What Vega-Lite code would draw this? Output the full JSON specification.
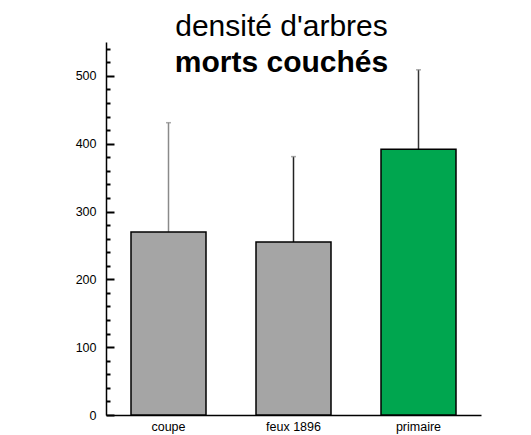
{
  "$schema": "https://vega.github.io/schema/vega-lite/v6.json",
  "autosize": "none",
  "width": 375,
  "height": 373,
  "padding": {"left": 106, "top": 42, "right": 50, "bottom": 20},
  "background": "white",
  "config": {"view": {"stroke": null}, "font": "Liberation Sans"},
  "title": {
    "text": "densité d'arbres",
    "subtitle": "morts couchés",
    "fontSize": 30,
    "fontWeight": "normal",
    "subtitleFontSize": 30,
    "subtitleFontWeight": "bold",
    "subtitleColor": "black",
    "color": "black",
    "font": "Liberation Sans",
    "subtitleFont": "Liberation Sans",
    "anchor": "middle",
    "dx": -12,
    "offset": -36,
    "subtitlePadding": 6
  },
  "data": {
    "values": [
      {"cat": "coupe", "value": 270, "upper": 431},
      {"cat": "feux 1896", "value": 255, "upper": 381},
      {"cat": "primaire", "value": 392, "upper": 509}
    ]
  },
  "encoding": {
    "x": {
      "field": "cat",
      "type": "nominal",
      "sort": null,
      "scale": {"paddingInner": 0.4, "paddingOuter": 0.2},
      "axis": {
        "title": null,
        "ticks": false,
        "labelAngle": 0,
        "labelPadding": 5,
        "labelFontSize": 12.5,
        "labelColor": "black",
        "domainColor": "black",
        "domainWidth": 1.5,
        "labelFont": "Liberation Sans"
      }
    }
  },
  "resolve": {"axis": {"y": "independent"}},
  "layer": [
    {
      "mark": {"type": "rule", "strokeWidth": 1.5},
      "encoding": {
        "y": {
          "field": "value",
          "type": "quantitative",
          "scale": {"domain": [0, 550], "nice": false},
          "axis": {
            "orient": "left",
            "title": null,
            "grid": false,
            "values": [0, 100, 200, 300, 400, 500],
            "labelOverlap": false,
            "ticks": false,
            "domainColor": "black",
            "domainWidth": 1.5,
            "labelColor": "black",
            "labelFontSize": 12.5,
            "labelFont": "Liberation Sans",
            "labelPadding": 10
          }
        },
        "y2": {"field": "upper"},
        "stroke": {
          "field": "cat",
          "type": "nominal",
          "scale": {"domain": ["coupe", "feux 1896", "primaire"], "range": ["#8a8a8a", "#222222", "#333333"]},
          "legend": null
        }
      }
    },
    {
      "mark": {"type": "tick", "orient": "horizontal", "size": 5, "thickness": 1.5, "color": "#888888"},
      "encoding": {
        "y": {
          "field": "upper",
          "type": "quantitative",
          "axis": {
            "orient": "right",
            "offset": -375,
            "title": null,
            "grid": false,
            "domain": false,
            "labels": false,
            "values": [0, 100, 200, 300, 400, 500],
            "tickSize": 8,
            "tickWidth": 2,
            "tickColor": "black"
          }
        }
      }
    },
    {
      "mark": {"type": "bar", "stroke": "black", "strokeWidth": 1.5},
      "encoding": {
        "y": {
          "field": "value",
          "type": "quantitative",
          "axis": {
            "orient": "right",
            "offset": -375,
            "title": null,
            "grid": false,
            "domain": false,
            "labels": false,
            "values": [20, 40, 60, 80, 120, 140, 160, 180, 220, 240, 260, 280, 320, 340, 360, 380, 420, 440, 460, 480, 520, 540],
            "tickSize": 4,
            "tickWidth": 2,
            "tickColor": "black"
          }
        },
        "fill": {
          "field": "cat",
          "type": "nominal",
          "scale": {"domain": ["coupe", "feux 1896", "primaire"], "range": ["#a5a5a5", "#a5a5a5", "#00a64f"]},
          "legend": null
        }
      }
    }
  ]
}
